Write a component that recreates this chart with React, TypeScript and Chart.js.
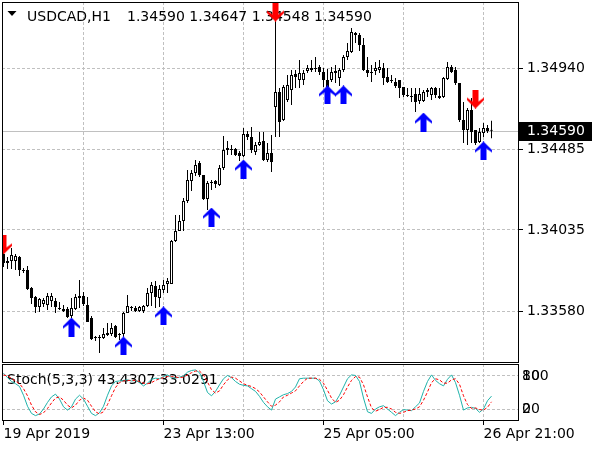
import React, { useEffect, useRef } from 'react';
import { Chart, registerables } from 'chart.js';
Chart.register(...registerables);

const FONT = '"DejaVu Sans", sans-serif';

// ---- data (H1 bars, index 0 = first visible bar) ----
const openPrices = [
  1.33900, 1.33850, 1.33861, 1.33861, 1.33883, 1.33811, 1.33811, 1.33710, 1.33659, 1.33603,
  1.33620, 1.33615, 1.33637, 1.33637, 1.33598, 1.33592, 1.33592, 1.33553, 1.33592, 1.33654,
  1.33665, 1.33615, 1.33542, 1.33430, 1.33435, 1.33430, 1.33447, 1.33452, 1.33497, 1.33452,
  1.33452, 1.33570, 1.33603, 1.33598, 1.33581, 1.33581, 1.33609, 1.33682, 1.33721, 1.33654,
  1.33699, 1.33732, 1.33732, 1.33973, 1.34029, 1.34085, 1.34197, 1.34309, 1.34354, 1.34410,
  1.34343, 1.34208, 1.34298, 1.34309, 1.34287, 1.34382, 1.34483, 1.34483, 1.34488, 1.34466,
  1.34449, 1.34572, 1.34555, 1.34471, 1.34511, 1.34533, 1.34427, 1.34466, 1.34723, 1.34807,
  1.34651, 1.34763, 1.34819, 1.34908, 1.34875, 1.34875, 1.34925, 1.34931, 1.34942, 1.34947,
  1.34919, 1.34875, 1.34875, 1.34914, 1.34886, 1.34931, 1.35003, 1.35031, 1.35127, 1.35127,
  1.35071, 1.34931, 1.34919, 1.34925, 1.34931, 1.34942, 1.34891, 1.34875, 1.34863, 1.34875,
  1.34835, 1.34791, 1.34785, 1.34796, 1.34757, 1.34757, 1.34819, 1.34791, 1.34830, 1.34774,
  1.34779, 1.34880, 1.34947, 1.34931, 1.34858, 1.34651, 1.34595, 1.34707, 1.34595, 1.34527,
  1.34578, 1.34606, 1.34590,
];
const highPrices = [
  1.33911, 1.33883, 1.33934, 1.33900, 1.33889, 1.33822, 1.33833, 1.33715, 1.33665, 1.33654,
  1.33654, 1.33682, 1.33682, 1.33654, 1.33631, 1.33615, 1.33603, 1.33654, 1.33676, 1.33755,
  1.33687, 1.33659, 1.33553, 1.33441, 1.33447, 1.33486, 1.33514, 1.33514, 1.33503, 1.33458,
  1.33575, 1.33671, 1.33609, 1.33609, 1.33609, 1.33615, 1.33710, 1.33743, 1.33749, 1.33727,
  1.33755, 1.33766, 1.33979, 1.34119, 1.34119, 1.34214, 1.34371, 1.34371, 1.34427, 1.34421,
  1.34343, 1.34309, 1.34315, 1.34315, 1.34399, 1.34561, 1.34533, 1.34511, 1.34494, 1.34477,
  1.34606, 1.34589, 1.34611, 1.34527, 1.34583, 1.34583, 1.34522, 1.34567, 1.35227, 1.34830,
  1.34847, 1.34903, 1.34931, 1.34931, 1.34987, 1.34931, 1.34959, 1.34987, 1.35003, 1.34959,
  1.34942, 1.34936, 1.34947, 1.34959, 1.34942, 1.35015, 1.35082, 1.35166, 1.35143, 1.35138,
  1.35110, 1.35003, 1.34959, 1.34975, 1.34987, 1.34970, 1.34942, 1.34903, 1.34886, 1.34875,
  1.34835, 1.34830, 1.34830, 1.34830, 1.34830, 1.34819, 1.34830, 1.34835, 1.34835, 1.34830,
  1.34891, 1.34975, 1.34959, 1.34947, 1.34858, 1.34751, 1.34718, 1.34774, 1.34595, 1.34606,
  1.34634, 1.34623, 1.34647,
];
const lowPrices = [
  1.33827, 1.33816, 1.33816, 1.33811, 1.33777, 1.33794, 1.33699, 1.33620, 1.33570, 1.33575,
  1.33603, 1.33587, 1.33603, 1.33570, 1.33587, 1.33575, 1.33542, 1.33542, 1.33587, 1.33598,
  1.33609, 1.33519, 1.33419, 1.33413, 1.33346, 1.33424, 1.33441, 1.33441, 1.33430, 1.33419,
  1.33435, 1.33570, 1.33581, 1.33575, 1.33575, 1.33570, 1.33603, 1.33609, 1.33598, 1.33603,
  1.33682, 1.33682, 1.33732, 1.33967, 1.34029, 1.34029, 1.34186, 1.34253, 1.34337, 1.34331,
  1.34203, 1.34147, 1.34259, 1.34270, 1.34281, 1.34371, 1.34455, 1.34455, 1.34449, 1.34421,
  1.34443, 1.34539, 1.34466, 1.34455, 1.34505, 1.34421, 1.34415, 1.34359, 1.34555, 1.34555,
  1.34645, 1.34751, 1.34735, 1.34830, 1.34830, 1.34847, 1.34914, 1.34919, 1.34919, 1.34903,
  1.34835, 1.34830, 1.34863, 1.34858, 1.34841, 1.34919, 1.34987, 1.35026, 1.35082, 1.35037,
  1.34925, 1.34891, 1.34863, 1.34903, 1.34914, 1.34847, 1.34858, 1.34858, 1.34830, 1.34774,
  1.34779, 1.34779, 1.34751, 1.34695, 1.34740, 1.34751, 1.34779, 1.34763, 1.34774, 1.34768,
  1.34774, 1.34875, 1.34914, 1.34847, 1.34639, 1.34522, 1.34511, 1.34522, 1.34511, 1.34522,
  1.34555, 1.34578, 1.34548,
];
const closePrices = [
  1.33850, 1.33861, 1.33895, 1.33889, 1.33811, 1.33805, 1.33704, 1.33654, 1.33603, 1.33648,
  1.33643, 1.33665, 1.33665, 1.33603, 1.33592, 1.33581, 1.33547, 1.33598, 1.33659, 1.33665,
  1.33620, 1.33519, 1.33424, 1.33435, 1.33430, 1.33452, 1.33458, 1.33486, 1.33435, 1.33447,
  1.33570, 1.33609, 1.33598, 1.33581, 1.33603, 1.33609, 1.33682, 1.33727, 1.33659, 1.33704,
  1.33727, 1.33749, 1.33973, 1.34029, 1.34085, 1.34197, 1.34315, 1.34354, 1.34399, 1.34343,
  1.34208, 1.34298, 1.34303, 1.34292, 1.34382, 1.34483, 1.34494, 1.34488, 1.34455, 1.34449,
  1.34572, 1.34555, 1.34483, 1.34511, 1.34527, 1.34427, 1.34466, 1.34415, 1.34807, 1.34639,
  1.34835, 1.34847, 1.34903, 1.34891, 1.34914, 1.34914, 1.34942, 1.34942, 1.34936, 1.34919,
  1.34875, 1.34835, 1.34919, 1.34925, 1.34931, 1.35003, 1.35037, 1.35143, 1.35138, 1.35071,
  1.34931, 1.34914, 1.34914, 1.34942, 1.34947, 1.34886, 1.34863, 1.34869, 1.34841, 1.34830,
  1.34791, 1.34785, 1.34779, 1.34751, 1.34796, 1.34807, 1.34807, 1.34830, 1.34791, 1.34785,
  1.34886, 1.34947, 1.34919, 1.34858, 1.34651, 1.34595, 1.34707, 1.34583, 1.34522, 1.34583,
  1.34606, 1.34589, 1.34590,
];

const stochMain = [
  85, 77, 70, 66, 61, 45, 25, 12, 8, 11,
  20, 32, 42, 47, 38, 24, 18, 24, 38, 45,
  38, 25, 12, 8, 13, 25, 45, 62, 70, 71,
  72, 73, 71, 72, 68, 62, 67, 74, 76, 75,
  79, 82, 77, 76, 78, 80, 87, 90, 91, 86,
  70, 50, 44, 52, 64, 75, 81, 77, 70, 65,
  63, 62, 57, 52, 43, 32, 24, 18, 38, 42,
  46, 48, 52, 60, 75, 76, 76, 76, 76, 71,
  55, 35, 29, 33, 45, 60, 75, 82, 81, 70,
  40, 15, 12, 20, 24, 26, 20, 14, 8, 14,
  19, 18, 17, 24, 31, 52, 70, 82, 72, 66,
  62, 74, 82, 68, 45, 18, 22, 23, 21, 14,
  20, 35, 43.4307,
];
const stochSignal = [
  82, 80, 76, 71, 66, 57, 44, 27, 15, 10,
  13, 21, 31, 40, 42, 36, 27, 22, 27, 36,
  40, 36, 25, 15, 11, 15, 28, 44, 59, 68,
  71, 72, 72, 72, 70, 67, 66, 68, 72, 75,
  77, 79, 79, 78, 77, 78, 82, 86, 89, 89,
  82, 69, 55, 49, 53, 64, 73, 78, 76, 71,
  66, 63, 61, 57, 51, 42, 33, 25, 27, 33,
  42, 45, 49, 53, 62, 70, 76, 76, 76, 74,
  67, 54, 40, 32, 36, 46, 60, 72, 79, 78,
  64, 42, 22, 16, 19, 23, 23, 20, 14, 12,
  14, 17, 18, 20, 24, 36, 51, 68, 75, 73,
  67, 67, 73, 75, 65, 44, 28, 21, 22, 19,
  18, 23, 33.0291,
];

const buyArrowBars = [17, 30, 40, 52, 60, 81, 85, 105, 120];
const buyArrowPrices = [1.33491, 1.33385, 1.33553, 1.34107, 1.34376, 1.34791, 1.34791, 1.34639, 1.34477];
const sellArrowBars = [0, 68, 118];
const sellArrowPrices = [1.33951, 1.35255, 1.34768];

const priceTicks = [1.3358, 1.34035, 1.34485, 1.3494];
const gridBars = [20, 40, 60, 80, 100, 120];
const timeTickBars = [0, 40, 80, 120];
const timeTickLabels = ['19 Apr 2019', '23 Apr 13:00', '25 Apr 05:00', '26 Apr 21:00'];
const stochLevels = [20, 80];
const stochEdgeLabels = ['0', '100'];
const lastPrice = 1.3459;
const symbolTitle = 'USDCAD,H1';
const ohlcTitle = '1.34590 1.34647 1.34548 1.34590';
const stochTitle = 'Stoch(5,3,3) 43.4307 33.0291';

const X_MIN = -0.375;
const X_MAX = 128.875;

function makeArrow(color: string, up: boolean) {
  const c = document.createElement('canvas');
  c.width = 17;
  c.height = 19;
  const g = c.getContext('2d')!;
  const pts = [[8.5, 0], [17, 8.5], [17, 11], [11.5, 7], [11.5, 19], [5.5, 19], [5.5, 7], [0, 11], [0, 8.5]];
  g.fillStyle = color;
  g.beginPath();
  pts.forEach(([x, y], k) => {
    const yy = up ? y : 19 - y;
    if (k === 0) g.moveTo(x, yy);
    else g.lineTo(x, yy);
  });
  g.closePath();
  g.fill();
  return c;
}

const noPad = (s: any) => {
  s.paddingTop = 0;
  s.paddingBottom = 0;
  s.paddingLeft = 0;
  s.paddingRight = 0;
};

const framePlugin = {
  id: 'frame',
  afterDraw(chart: any) {
    const { ctx, chartArea: a } = chart;
    ctx.save();
    ctx.strokeStyle = '#000';
    ctx.lineWidth = 1;
    ctx.strokeRect(a.left + 0.5, a.top + 0.5, a.right - a.left - 1, a.bottom - a.top - 1);
    ctx.restore();
  },
};

export default function App() {
  const mainRef = useRef<HTMLCanvasElement>(null);
  const subRef = useRef<HTMLCanvasElement>(null);

  useEffect(() => {
    const upImg = makeArrow('#0000FF', true);
    const downImg = makeArrow('#FF0000', false);
    const idx = openPrices.map((_, i) => i);

    const mainPlugin = {
      id: 'mainDecor',
      beforeDatasetsDraw(chart: any) {
        const { ctx, chartArea: a, scales } = chart;
        ctx.save();
        const py = Math.round(scales.y.getPixelForValue(lastPrice)) + 0.5;
        ctx.strokeStyle = '#C0C0C0';
        ctx.lineWidth = 1;
        ctx.beginPath();
        ctx.moveTo(a.left, py);
        ctx.lineTo(a.right, py);
        ctx.stroke();
        ctx.fillStyle = '#000';
        ctx.beginPath();
        ctx.moveTo(7.5, 11);
        ctx.lineTo(16.5, 11);
        ctx.lineTo(12, 16);
        ctx.closePath();
        ctx.fill();
        ctx.font = '14px ' + FONT;
        ctx.textBaseline = 'alphabetic';
        ctx.textAlign = 'left';
        ctx.fillText(symbolTitle, 27, 21);
        ctx.fillText(ohlcTitle, 127, 21);
        ctx.restore();
      },
      afterDraw(chart: any) {
        const { ctx, chartArea: a, scales } = chart;
        const py = Math.round(scales.y.getPixelForValue(lastPrice));
        ctx.save();
        ctx.fillStyle = '#000';
        ctx.fillRect(a.right, py - 9, 73, 19);
        ctx.fillStyle = '#fff';
        ctx.font = '14px ' + FONT;
        ctx.textBaseline = 'middle';
        ctx.textAlign = 'left';
        ctx.fillText(lastPrice.toFixed(5), a.right + 8, py + 0.5);
        ctx.restore();
      },
    };

    const main = new Chart(mainRef.current!, {
      type: 'bar',
      data: {
        datasets: [
          {
            type: 'bar',
            data: idx.map((i) => ({ x: i, y: [lowPrices[i], highPrices[i]] })) as any,
            backgroundColor: '#000',
            borderWidth: 0,
            barThickness: 1,
            grouped: false,
            inflateAmount: 0,
            order: 3,
          } as any,
          {
            type: 'bar',
            data: idx.map((i) => ({ x: i, y: [openPrices[i], closePrices[i]] })) as any,
            backgroundColor: (c: any) => (closePrices[c.dataIndex] > openPrices[c.dataIndex] ? '#fff' : '#000'),
            borderColor: '#000',
            borderWidth: 1,
            borderSkipped: false,
            barThickness: 3,
            minBarLength: 1,
            grouped: false,
            inflateAmount: 0,
            order: 2,
          } as any,
          {
            type: 'scatter',
            data: buyArrowBars.map((b, k) => ({ x: b, y: buyArrowPrices[k] })),
            pointStyle: upImg as any,
            pointRadius: 8,
            clip: 0,
            order: 1,
          } as any,
          {
            type: 'scatter',
            data: sellArrowBars.map((b, k) => ({ x: b, y: sellArrowPrices[k] })),
            pointStyle: downImg as any,
            pointRadius: 8,
            clip: 0,
            order: 1,
          } as any,
        ],
      },
      options: {
        animation: false,
        responsive: false,
        maintainAspectRatio: false,
        events: [],
        layout: { autoPadding: false, padding: { left: 2, top: 2, right: 0, bottom: 1 } },
        plugins: { legend: { display: false }, tooltip: { enabled: false } },
        scales: {
          x: {
            type: 'linear',
            offset: false,
            min: X_MIN,
            max: X_MAX,
            afterBuildTicks: (s: any) => {
              s.ticks = gridBars.map((v) => ({ value: v }));
            },
            ticks: { display: false },
            grid: { offset: false, color: '#C0C0C0', drawTicks: false, lineWidth: 1 },
            border: { display: false, dash: [3, 2] },
            afterFit: (s: any) => {
              s.height = 0;
              noPad(s);
            },
          },
          y: {
            type: 'linear',
            position: 'right',
            beginAtZero: false,
            min: 1.332897,
            max: 1.353113,
            afterBuildTicks: (s: any) => {
              s.ticks = priceTicks.map((v) => ({ value: v }));
            },
            ticks: {
              color: '#000',
              font: { family: FONT, size: 14 },
              padding: 4,
              autoSkip: false,
              callback: (v: any) => Number(v).toFixed(5),
            },
            grid: { color: '#C0C0C0', tickColor: '#000', tickLength: 4, drawTicks: true },
            border: { display: false, dash: [3, 2] },
            afterFit: (s: any) => {
              s.width = 81;
              noPad(s);
            },
          },
        },
      } as any,
      plugins: [mainPlugin, framePlugin],
    });

    const subPlugin = {
      id: 'subDecor',
      beforeDatasetsDraw(chart: any) {
        const { ctx } = chart;
        ctx.save();
        ctx.fillStyle = '#000';
        ctx.font = '14px ' + FONT;
        ctx.textBaseline = 'alphabetic';
        ctx.textAlign = 'left';
        ctx.fillText(stochTitle, 7, 21);
        ctx.restore();
      },
      afterDraw(chart: any) {
        const { ctx, chartArea: a, scales } = chart;
        ctx.save();
        ctx.fillStyle = '#000';
        ctx.font = '14px ' + FONT;
        ctx.textBaseline = 'middle';
        ctx.textAlign = 'left';
        stochLevels.forEach((lv, k) => {
          ctx.fillText(stochEdgeLabels[k], a.right + 3, scales.y.getPixelForValue(lv));
        });
        ctx.restore();
      },
    };

    const sub = new Chart(subRef.current!, {
      type: 'line',
      data: {
        datasets: [
          {
            data: stochMain.map((v, i) => ({ x: i, y: v })),
            borderColor: '#20B2AA',
            borderWidth: 1,
            pointRadius: 0,
            tension: 0,
            order: 2,
          },
          {
            data: stochSignal.map((v, i) => ({ x: i, y: v })),
            borderColor: '#FF0000',
            borderWidth: 1,
            borderDash: [3, 2],
            pointRadius: 0,
            tension: 0,
            order: 1,
          },
        ],
      },
      options: {
        animation: false,
        responsive: false,
        maintainAspectRatio: false,
        events: [],
        layout: { autoPadding: false, padding: { left: 2, top: 1, right: 0, bottom: 0 } },
        plugins: { legend: { display: false }, tooltip: { enabled: false } },
        scales: {
          x: {
            type: 'linear',
            offset: false,
            min: X_MIN,
            max: X_MAX,
            afterBuildTicks: (s: any) => {
              s.ticks = [0, ...gridBars].map((v) => ({ value: v }));
            },
            ticks: {
              color: '#000',
              font: { family: FONT, size: 14 },
              autoSkip: false,
              maxRotation: 0,
              minRotation: 0,
              align: 'start',
              padding: 1,
              callback: (v: any) => {
                const k = timeTickBars.indexOf(Number(v));
                return k >= 0 ? timeTickLabels[k] : '';
              },
            },
            grid: {
              offset: false,
              color: (c: any) => (c.tick && c.tick.value === 0 ? 'rgba(0,0,0,0)' : '#C0C0C0'),
              tickColor: (c: any) => (c.tick && timeTickBars.includes(c.tick.value) ? '#000' : 'rgba(0,0,0,0)'),
              tickLength: 4,
            },
            border: { display: false, dash: [3, 2] },
            afterFit: (s: any) => {
              s.height = 29;
              noPad(s);
            },
          },
          y: {
            type: 'linear',
            position: 'right',
            min: -1.8,
            max: 101.8,
            afterBuildTicks: (s: any) => {
              s.ticks = stochLevels.map((v) => ({ value: v }));
            },
            ticks: {
              color: '#000',
              font: { family: FONT, size: 14 },
              padding: 3,
              autoSkip: false,
              callback: (v: any) => String(v),
            },
            grid: { color: '#C0C0C0', drawTicks: false },
            border: { display: false, dash: [3, 2] },
            afterFit: (s: any) => {
              s.width = 81;
              noPad(s);
            },
          },
        },
      } as any,
      plugins: [subPlugin, framePlugin],
    });

    return () => {
      main.destroy();
      sub.destroy();
    };
  }, []);

  return (
    <div style={{ position: 'fixed', left: 0, top: 0, width: 600, height: 450, background: '#fff', overflow: 'hidden' }}>
      <canvas ref={mainRef} width={600} height={364} style={{ position: 'absolute', left: 0, top: 0, width: 600, height: 364 }} />
      <canvas ref={subRef} width={600} height={87} style={{ position: 'absolute', left: 0, top: 363, width: 600, height: 87 }} />
    </div>
  );
}
